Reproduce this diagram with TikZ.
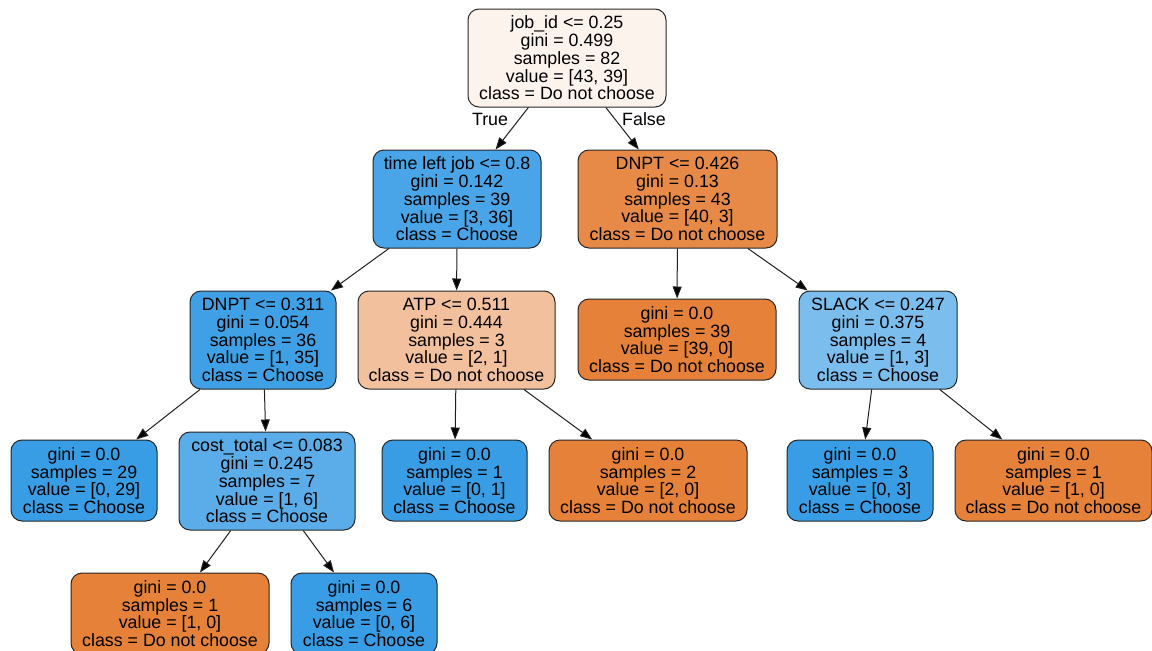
\documentclass[tikz,border=0pt]{standalone}
\usepackage{fontspec}
\setmainfont{Liberation Sans}
\usetikzlibrary{arrows.meta}
\definecolor{croot}{HTML}{FDF3ED}
\definecolor{ctl}{HTML}{49A5E7}
\definecolor{cdn}{HTML}{E78A48}
\definecolor{cdb}{HTML}{3FA0E6}
\definecolor{catp}{HTML}{F2C09C}
\definecolor{cor}{HTML}{E58139}
\definecolor{cbl}{HTML}{399DE5}
\definecolor{csl}{HTML}{7BBEEE}
\definecolor{cct}{HTML}{5AADE9}
\begin{document}
\begin{tikzpicture}[x=1pt,y=-1pt,
  tn/.style={draw=black!85, line width=1pt, rounded corners=11pt, inner sep=0pt, align=center,
             font=\fontsize{17.8}{17.7}\selectfont},
  big/.style={minimum height=98pt},
  leaf/.style={minimum height=81pt},
  ar/.style={draw=black!88, line width=1pt, -{Triangle[length=12pt,width=9pt,fill=black]}},
  lbl/.style={font=\fontsize{17.8}{17.7}\selectfont, inner sep=0pt}]
\useasboundingbox (0,0) rectangle (1152,651);
\node[tn, big, fill=croot, minimum width=198pt] (n0) at (567,58)
  {job\_id <= 0.25\\gini = 0.499\\samples = 82\\value = [43, 39]\\class = Do not choose};
\node[tn, big, fill=ctl, minimum width=168pt] (n1) at (457,199)
  {time left job <= 0.8\\gini = 0.142\\samples = 39\\value = [3, 36]\\class = Choose};
\node[tn, big, fill=cdn, minimum width=199pt] (n2) at (677.5,199)
  {DNPT <= 0.426\\gini = 0.13\\samples = 43\\value = [40, 3]\\class = Do not choose};
\node[tn, big, fill=cdb, minimum width=146pt] (n3) at (263,340)
  {DNPT <= 0.311\\gini = 0.054\\samples = 36\\value = [1, 35]\\class = Choose};
\node[tn, big, fill=catp, minimum width=197pt] (n4) at (456.5,340)
  {ATP <= 0.511\\gini = 0.444\\samples = 3\\value = [2, 1]\\class = Do not choose};
\node[tn, leaf, fill=cor, minimum width=198pt] (n5) at (677,339.5)
  {gini = 0.0\\samples = 39\\value = [39, 0]\\class = Do not choose};
\node[tn, big, fill=csl, minimum width=158pt] (n6) at (878,340)
  {SLACK <= 0.247\\gini = 0.375\\samples = 4\\value = [1, 3]\\class = Choose};
\node[tn, leaf, fill=cbl, minimum width=146pt] (n7) at (84,480.5)
  {gini = 0.0\\samples = 29\\value = [0, 29]\\class = Choose};
\node[tn, big, fill=cct, minimum width=176pt] (n8) at (267,481)
  {cost\_total <= 0.083\\gini = 0.245\\samples = 7\\value = [1, 6]\\class = Choose};
\node[tn, leaf, fill=cbl, minimum width=145pt] (n9) at (454.5,480.5)
  {gini = 0.0\\samples = 1\\value = [0, 1]\\class = Choose};
\node[tn, leaf, fill=cor, minimum width=198pt] (n10) at (648,480.5)
  {gini = 0.0\\samples = 2\\value = [2, 0]\\class = Do not choose};
\node[tn, leaf, fill=cbl, minimum width=146pt] (n11) at (860,480.5)
  {gini = 0.0\\samples = 3\\value = [0, 3]\\class = Choose};
\node[tn, leaf, fill=cor, minimum width=197pt] (n12) at (1053.5,480.5)
  {gini = 0.0\\samples = 1\\value = [1, 0]\\class = Do not choose};
\node[tn, leaf, fill=cor, minimum width=198pt] (n13) at (170,613.5)
  {gini = 0.0\\samples = 1\\value = [1, 0]\\class = Do not choose};
\node[tn, leaf, fill=cbl, minimum width=146pt] (n14) at (364,613.5)
  {gini = 0.0\\samples = 6\\value = [0, 6]\\class = Choose};
\draw[ar] (n0) -- (n1);
\draw[ar] (n0) -- (n2);
\draw[ar] (n1) -- (n3);
\draw[ar] (n1) -- (n4);
\draw[ar] (n2) -- (n5);
\draw[ar] (n2) -- (n6);
\draw[ar] (n3) -- (n7);
\draw[ar] (n3) -- (n8);
\draw[ar] (n4) -- (n9);
\draw[ar] (n4) -- (n10);
\draw[ar] (n6) -- (n11);
\draw[ar] (n6) -- (n12);
\draw[ar] (n8) -- (n13);
\draw[ar] (n8) -- (n14);
\node[lbl] (tlab) at (490,119) {True};
\node[lbl] (flab) at (644,119) {False};
\end{tikzpicture}
\end{document}
